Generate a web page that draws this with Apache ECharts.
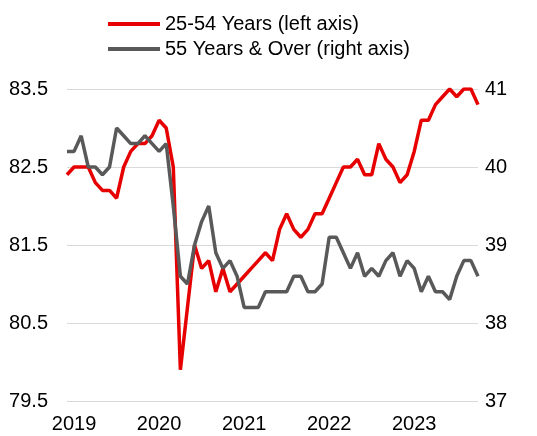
<!DOCTYPE html>
<html>
<head>
<meta charset="utf-8">
<script src="https://cdn.jsdelivr.net/npm/echarts@6/dist/echarts.min.js"></script>
<style>
  html, body { margin: 0; padding: 0; background: #fff; }
  #chart { width: 537px; height: 436px; }
</style>
</head>
<body>
<div id="chart"></div>
<script>
  // monthly, Dec 2018 .. Oct 2023
  var months = []
  for (var y = 2018; y <= 2023; y++) {
    for (var m = 1; m <= 12; m++) {
      if (y === 2018 && m < 12) continue
      if (y === 2023 && m > 10) continue
      months.push(y + '-' + (m < 10 ? '0' + m : m))
    }
  }

  var primeAge = [
    82.4,
    82.5, 82.5, 82.5, 82.3, 82.2, 82.2, 82.1, 82.5, 82.7, 82.8, 82.8, 82.9,
    83.1, 83.0, 82.5, 79.9, 80.7, 81.5, 81.2, 81.3, 80.9, 81.2, 80.9, 81.0,
    81.1, 81.2, 81.3, 81.4, 81.3, 81.7, 81.9, 81.7, 81.6, 81.7, 81.9, 81.9,
    82.1, 82.3, 82.5, 82.5, 82.6, 82.4, 82.4, 82.8, 82.6, 82.5, 82.3, 82.4,
    82.7, 83.1, 83.1, 83.3, 83.4, 83.5, 83.4, 83.5, 83.5, 83.3
  ]
  var olderAge = [
    40.2,
    40.2, 40.4, 40.0, 40.0, 39.9, 40.0, 40.5, 40.4, 40.3, 40.3, 40.4, 40.3,
    40.2, 40.3, 39.5, 38.6, 38.5, 39.0, 39.3, 39.5, 38.9, 38.7, 38.8, 38.6,
    38.2, 38.2, 38.2, 38.4, 38.4, 38.4, 38.4, 38.6, 38.6, 38.4, 38.4, 38.5,
    39.1, 39.1, 38.9, 38.7, 38.9, 38.6, 38.7, 38.6, 38.8, 38.9, 38.6, 38.8,
    38.7, 38.4, 38.6, 38.4, 38.4, 38.3, 38.6, 38.8, 38.8, 38.6
  ]
  var seriesNames = ['25-54 Years (left axis)', '55 Years & Over (right axis)']

  var font = 'Liberation Sans'
  var fs = 20
  var chart = echarts.init(document.getElementById('chart'))
  chart.setOption({
    animation: false,
    textStyle: { fontFamily: font },
    legend: {
      orient: 'vertical',
      left: 103,
      top: 9,
      itemWidth: 52,
      itemHeight: 4,
      itemGap: 5,
      icon: 'rect',
      textStyle: { fontSize: fs, color: '#000', fontFamily: font },
      data: seriesNames
    },
    grid: { left: 67, right: 59, top: 89, bottom: 35 },
    xAxis: {
      type: 'category',
      data: months,
      boundaryGap: false,
      axisLine: { show: false },
      axisTick: { show: false },
      splitLine: { show: false },
      axisLabel: {
        color: '#000',
        fontSize: fs,
        margin: 13,
        interval: function (i, v) { return v.slice(5) === '01' },
        formatter: function (v) { return v.slice(0, 4) }
      }
    },
    yAxis: [{
      type: 'value',
      min: 79.5,
      max: 83.5,
      interval: 0.5,
      axisLine: { show: false },
      axisTick: { show: false },
      axisLabel: {
        color: '#000',
        fontSize: fs,
        margin: 19,
        formatter: function (v) {
          return Math.abs(v - Math.floor(v) - 0.5) < 0.01 ? v.toFixed(1) : ''
        }
      },
      splitLine: { lineStyle: { color: ['#d9d9d9', 'transparent'], width: 1 } }
    }, {
      type: 'value',
      min: 37,
      max: 41,
      interval: 1,
      position: 'right',
      axisLine: { show: false },
      axisTick: { show: false },
      axisLabel: { color: '#000', fontSize: fs, margin: 7 },
      splitLine: { show: false }
    }],
    series: [{
      name: seriesNames[0],
      type: 'line',
      yAxisIndex: 0,
      data: primeAge,
      symbol: 'none',
      color: '#e60000',
      lineStyle: { width: 3.5, color: '#e60000' }
    }, {
      name: seriesNames[1],
      type: 'line',
      yAxisIndex: 1,
      data: olderAge,
      symbol: 'none',
      color: '#595959',
      lineStyle: { width: 3.5, color: '#595959' }
    }]
  })
</script>
</body>
</html>
